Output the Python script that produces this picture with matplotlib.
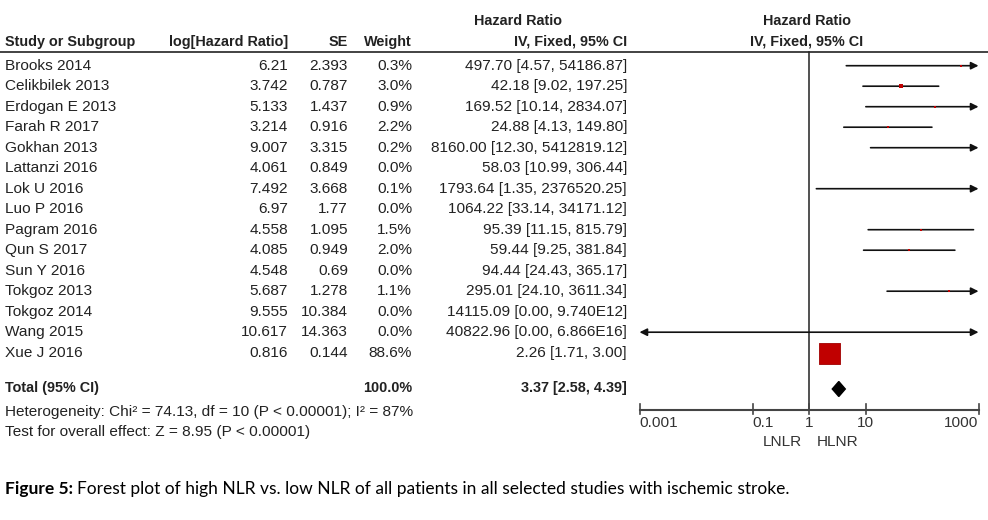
import matplotlib.pyplot as plt
import numpy as np

# study data
STUDIES = ['Brooks 2014', 'Celikbilek 2013', 'Erdogan E 2013', 'Farah R 2017', 'Gokhan 2013',
           'Lattanzi 2016', 'Lok U 2016', 'Luo P 2016', 'Pagram 2016', 'Qun S 2017',
           'Sun Y 2016', 'Tokgoz 2013', 'Tokgoz 2014', 'Wang 2015', 'Xue J 2016']
LOG_HR = ['6.21', '3.742', '5.133', '3.214', '9.007', '4.061', '7.492', '6.97', '4.558', '4.085',
          '4.548', '5.687', '9.555', '10.617', '0.816']
SE = ['2.393', '0.787', '1.437', '0.916', '3.315', '0.849', '3.668', '1.77', '1.095', '0.949',
      '0.69', '1.278', '10.384', '14.363', '0.144']
WEIGHT = [0.3, 3.0, 0.9, 2.2, 0.2, 0.0, 0.1, 0.0, 1.5, 2.0, 0.0, 1.1, 0.0, 0.0, 88.6]
HR = [497.70, 42.18, 169.52, 24.88, 8160.00, 58.03, 1793.64, 1064.22, 95.39, 59.44,
      94.44, 295.01, 14115.09, 40822.96, 2.26]
CI_LO = ['4.57', '9.02', '10.14', '4.13', '12.30', '10.99', '1.35', '33.14', '11.15', '9.25',
         '24.43', '24.10', '0.00', '0.00', '1.71']
CI_HI = ['54186.87', '197.25', '2834.07', '149.80', '5412819.12', '306.44', '2376520.25',
         '34171.12', '815.79', '381.84', '365.17', '3611.34', '9.740E12', '6.866E16', '3.00']
# rows that have a CI line drawn in the plot
DRAWN = [1, 1, 1, 1, 1, 0, 1, 0, 1, 1, 0, 1, 0, 1, 1]

TOTAL_HR, TOTAL_LO, TOTAL_HI = 3.37, 2.58, 4.39
TICKS = [0.001, 0.1, 1, 10, 1000]
TICK_LABELS = ['0.001', '0.1', '1', '10', '1000']
TICK_HA = ['left', 'left', 'center', 'center', 'right']

# layout (pixels)
W, H = 988, 520
ROW0, ROW_STEP = 65.7, 20.5
TXT = '#222222'
FONT = 'Liberation Sans'
FS = 11.1       # regular table text
FS_B = 10.4     # bold headers

fig = plt.figure(figsize=(W / 100, H / 100), dpi=100)
tab = fig.add_axes([0, 0, 1, 1])
tab.set_xlim(0, W)
tab.set_ylim(H, 0)
tab.axis('off')


def txt(x, y, s, ha='left', bold=False, color=TXT):
    return tab.text(x, y, s, ha=ha, va='center', color=color, family=FONT,
                    fontsize=FS_B if bold else FS,
                    fontweight='bold' if bold else 'normal')


# headers
txt(518, 21, 'Hazard Ratio', ha='center', bold=True)
txt(807, 21, 'Hazard Ratio', ha='center', bold=True)
txt(5, 42, 'Study or Subgroup', bold=True)
txt(288, 42, 'log[Hazard Ratio]', ha='right', bold=True)
txt(348, 42, 'SE', ha='right', bold=True)
txt(412, 42, 'Weight', ha='right', bold=True)
txt(627, 42, 'IV, Fixed, 95% CI', ha='right', bold=True)
txt(807, 42, 'IV, Fixed, 95% CI', ha='center', bold=True)
tab.plot([0, W], [51.5, 51.5], color='#222222', lw=1.2)

# study rows
for i, name in enumerate(STUDIES):
    y = ROW0 + ROW_STEP * i
    txt(5, y, name)
    txt(288, y, LOG_HR[i], ha='right')
    txt(348, y, SE[i], ha='right')
    txt(412, y, '%.1f%%' % WEIGHT[i], ha='right')
    txt(627, y, '%.2f [%s, %s]' % (HR[i], CI_LO[i], CI_HI[i]), ha='right')

y_tot = 388
txt(5, y_tot, 'Total (95% CI)', bold=True)
txt(412, y_tot, '100.0%', ha='right', bold=True)
txt(627, y_tot, '%.2f [%.2f, %.2f]' % (TOTAL_HR, TOTAL_LO, TOTAL_HI), ha='right', bold=True)
txt(5, 412, 'Heterogeneity: Chi² = 74.13, df = 10 (P < 0.00001); I² = 87%')
txt(5, 432, 'Test for overall effect: Z = 8.95 (P < 0.00001)')

# favours labels under the axis
txt(802, 442, 'LNLR', ha='right', color='#333333')
txt(817, 442, 'HLNR', ha='left', color='#333333')

# caption
cap = tab.text(5, 489, 'Figure 5:', ha='left', va='center', color='black', fontsize=12.5,
               family='Lato', fontweight='bold')
fig.canvas.draw()
bb = cap.get_window_extent(fig.canvas.get_renderer())
tab.text(bb.x1 + 4, 489, 'Forest plot of high NLR vs. low NLR of all patients in all selected studies with ischemic stroke.',
         ha='left', va='center', color='black', fontsize=12.5, family='Lato')

# forest plot
x0, x1 = 639.5, 978.5
ax = fig.add_axes([x0 / W, 0, (x1 - x0) / W, 1])
ax.set_xscale('log')
ax.set_xlim(0.001, 1000)
ax.set_ylim(H, 0)
ax.axis('off')

xmin, xmax = 0.001, 1000
for i in range(len(STUDIES)):
    if not DRAWN[i]:
        continue
    y = ROW0 + ROW_STEP * i
    lo_v, hi_v = float(CI_LO[i]), float(CI_HI[i])
    lo = max(lo_v, xmin)
    hi = min(hi_v, xmax)
    left_arrow = lo_v < xmin
    right_arrow = hi_v > xmax
    if left_arrow and right_arrow:
        style = '<|-|>'
    elif right_arrow:
        style = '-|>'
    elif left_arrow:
        style = '<|-'
    else:
        style = '-'
    ax.annotate('', xy=(hi, y), xytext=(lo, y),
                arrowprops=dict(arrowstyle=style, color='#111111', lw=1.2,
                                mutation_scale=11, shrinkA=0, shrinkB=0))
    if WEIGHT[i] > 0 and HR[i] < xmax:
        side = 21 * np.sqrt(WEIGHT[i] / 88.6)
        if WEIGHT[i] < 10:
            side = max(side * 0.8, 1.8)
        ax.scatter([HR[i]], [y], marker='s', s=(side * 0.72) ** 2, color='#C00000',
                   edgecolors='#A00000', linewidths=0.6 if WEIGHT[i] > 10 else 0, zorder=3)

# overall diamond
yd = 389
ax.fill([TOTAL_LO, TOTAL_HR, TOTAL_HI, TOTAL_HR], [yd, yd - 7.5, yd, yd + 7.5],
        color='black', zorder=3)

# null line and axis
y_axis = 410
ax.plot([1, 1], [51.5, y_axis], color='#222222', lw=1.1)
ax.plot([xmin, xmax], [y_axis, y_axis], color='#444444', lw=1.5, clip_on=False)
for t, lab, ha in zip(TICKS, TICK_LABELS, TICK_HA):
    ax.plot([t, t], [y_axis - 6, y_axis + 4], color='#444444', lw=1.2, clip_on=False)
    ax.text(t, 423, lab, ha=ha, va='center', fontsize=FS, family=FONT, color='#333333')

fig.savefig('out.png', dpi=100)
